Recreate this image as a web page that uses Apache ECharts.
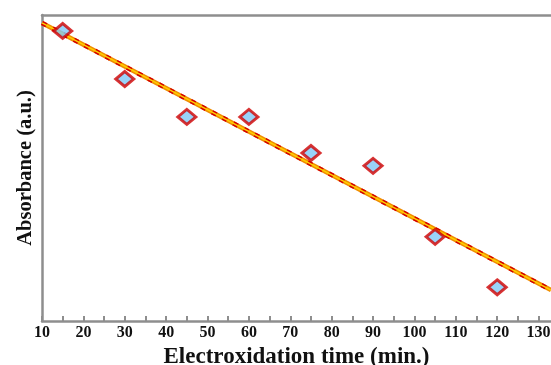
<!DOCTYPE html>
<html>
<head>
<meta charset="utf-8">
<script src="https://cdn.jsdelivr.net/npm/echarts@6/dist/echarts.min.js"></script>
<style>
  html, body { margin: 0; padding: 0; background: #fff; }
  #chart { width: 551px; height: 365px; }
</style>
</head>
<body>
<div id="chart"></div>
<script>
// measured points (a.u. scaled 0-100)
const times = [15, 30, 45, 60, 75, 90, 105, 120];
const absorbance = [94.8, 79.1, 66.7, 66.7, 54.9, 50.7, 27.5, 11.0];
// fitted line read at the plot edges
const fitX = [10, 133];
const fitY = [97.4, 10.1];

const font = 'Liberation Serif, Times New Roman, serif';
const axisGrey = '#8e8e8e';

const fitData = fitX.map((x, i) => [x, fitY[i]]);

const chart = echarts.init(document.getElementById('chart'));
chart.setOption({
  animation: false,
  grid: { left: 42, top: 15, right: 0, bottom: 44, containLabel: false, outerBoundsMode: 'none' },
  xAxis: [
    {
      type: 'value',
      min: 10,
      max: 133,
      interval: 5,
      name: 'Electroxidation time (min.)',
      nameLocation: 'middle',
      nameGap: 18,
      nameTextStyle: { fontFamily: font, fontWeight: 'bold', fontSize: 23, color: '#111' },
      axisLine: { lineStyle: { color: axisGrey, width: 2.5 } },
      axisTick: { inside: true, length: 5, lineStyle: { color: axisGrey, width: 2 } },
      axisLabel: {
        fontFamily: font, fontWeight: 'bold', fontSize: 16, color: '#111', margin: 4,
        showMaxLabel: false,
        formatter: v => (v % 10 === 0 ? String(v) : '')
      },
      splitLine: { show: false }
    },
    {
      type: 'value',
      position: 'top',
      min: 10,
      max: 133,
      axisLine: { show: true, lineStyle: { color: axisGrey, width: 2.5 } },
      axisTick: { show: false },
      axisLabel: { show: false },
      splitLine: { show: false }
    }
  ],
  yAxis: {
    type: 'value',
    min: 0,
    max: 100,
    name: 'Absorbance (a.u.)',
    nameLocation: 'middle',
    nameGap: 6,
    nameTextStyle: { fontFamily: font, fontWeight: 'bold', fontSize: 20.5, color: '#111' },
    axisLine: { show: true, lineStyle: { color: axisGrey, width: 2.5 } },
    axisTick: { show: false },
    axisLabel: { show: false },
    splitLine: { show: false }
  },
  series: [
    {
      type: 'line',
      data: fitData,
      symbol: 'none',
      lineStyle: { color: '#f08c00', width: 4.5 },
      z: 2
    },
    {
      type: 'line',
      data: fitData,
      symbol: 'none',
      lineStyle: { color: '#d40000', width: 4.5, type: [5, 7] },
      z: 3
    },
    {
      type: 'line',
      data: fitData,
      symbol: 'none',
      lineStyle: { color: '#ffd200', width: 1.5 },
      z: 4
    },
    {
      type: 'scatter',
      data: times.map((t, i) => [t, absorbance[i]]),
      symbol: 'diamond',
      symbolSize: [18, 15],
      itemStyle: { color: '#80c8f8', borderColor: '#d00000', borderWidth: 3 },
      z: 5
    }
  ]
});
</script>
</body>
</html>
